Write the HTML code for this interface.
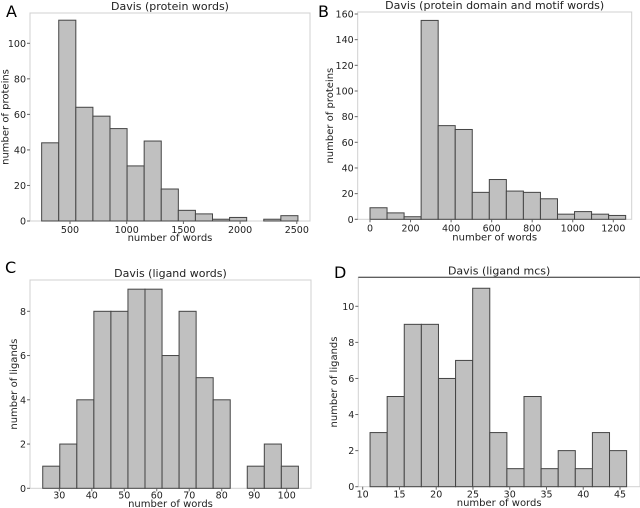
<!DOCTYPE html>
<html><head><meta charset="utf-8">
<style>
html,body{margin:0;padding:0;background:#fff;}
svg{display:block;font-family:"DejaVu Sans","Liberation Sans",sans-serif;}
</style></head>
<body>
<svg id="fig" width="640" height="508" viewBox="0 0 640 508"></svg>
<script>
// Panel A data
const aCounts = [44,113,64,59,52,31,45,18,6,4,1,2,0,1,3];
const aStart = 250, aEnd = 2510;
const aXTicks = [500,1000,1500,2000,2500];
const aYTicks = [0,20,40,60,80,100];
// Panel B data
const bCounts = [9,5,2,155,73,70,21,31,22,21,16,4,6,4,3];
const bStart = 0, bEnd = 1261;
const bXTicks = [0,200,400,600,800,1000,1200];
const bYTicks = [0,20,40,60,80,100,120,140,160];
// Panel C data
const cCounts = [1,2,4,8,8,9,9,6,8,5,4,0,1,2,1];
const cStart = 24.9, cEnd = 103.6;
const cXTicks = [30,40,50,60,70,80,90,100];
const cYTicks = [0,2,4,6,8];
// Panel D data
const dCounts = [3,5,9,9,6,7,11,3,1,5,1,2,1,3,2];
const dStart = 11.0, dEnd = 45.9;
const dXTicks = [10,15,20,25,30,35,40,45];
const dYTicks = [0,2,4,6,8,10];

const NS="http://www.w3.org/2000/svg";
const fig=document.getElementById('fig');
function mk(tag,attrs,parent){const e=document.createElementNS(NS,tag);for(const k in attrs)e.setAttribute(k,attrs[k]);(parent||fig).appendChild(e);return e;}

function panel(cfg){
  const g=mk('g',{});
  
  
  const sx=v=>cfg.px0+(v-cfg.vx0)*(cfg.px1-cfg.px0)/(cfg.vx1-cfg.vx0);
  const sy=v=>cfg.py0+(v-cfg.vy0)*(cfg.py1-cfg.py0)/(cfg.vy1-cfg.vy0);
  const fr=mk('rect',{x:cfg.L,y:cfg.T,width:cfg.R-cfg.L,height:cfg.B-cfg.T,fill:'none',stroke:'#d0d0d0','stroke-width':1},g);
  
  
  if(cfg.topLine){const tl=mk('line',{x1:cfg.L,x2:640,y1:cfg.T,y2:cfg.T,stroke:'#333','stroke-width':1},g);
    
    }
  const w=(cfg.end-cfg.start)/cfg.counts.length;
  cfg.counts.forEach((c,i)=>{
    if(c<=0)return;
    const x0=sx(cfg.start+i*w),x1=sx(cfg.start+(i+1)*w),y=sy(c),y0=sy(0);
    const r=mk('rect',{x:x0,y:y,width:x1-x0,height:y0-y,fill:'#c0c0c0',stroke:'#444','stroke-width':1},g);
    
    
  });
  cfg.xt.forEach(t=>{
    const x=sx(t);
    mk('line',{x1:x,x2:x,y1:cfg.B,y2:cfg.B+3,stroke:'#666'},g);
    const tx=mk('text',{x:x,y:cfg.B+cfg.tko,'font-size':9.5,'text-anchor':'middle',fill:'#222'},g);
    tx.textContent=t;
    
    
  });
  cfg.yt.forEach(t=>{
    const y=sy(t);
    mk('line',{x1:cfg.L-3,x2:cfg.L,y1:y,y2:y,stroke:'#666'},g);
    const tx=mk('text',{x:cfg.L-4,y:y+3.5,'font-size':9.5,'text-anchor':'end',fill:'#222'},g);
    tx.textContent=t;
    
    
  });
  const ti=mk('text',{x:(cfg.L+cfg.R)/2,y:cfg.T-3,'font-size':11,'text-anchor':'middle',fill:'#222'},g);
  ti.textContent=cfg.title;
  
  
  const xl=mk('text',{x:(cfg.L+cfg.R)/2,y:cfg.B+cfg.xlo,'font-size':10,'text-anchor':'middle',fill:'#222'},g);
  xl.textContent='number of words';
  
  
  const yx=cfg.ylx,ym=(cfg.T+cfg.B)/2;
  const yl=mk('text',{x:yx,y:ym,'font-size':10,'text-anchor':'middle',fill:'#222',transform:'rotate(-90 '+yx+' '+ym+')'},g);
  yl.textContent=cfg.ylabel;
  
  
  const pl=mk('text',{x:cfg.lx,y:cfg.ly,'font-size':16,fill:'#000'},g);
  pl.textContent=cfg.letter;
  
  
}

panel({name:'panel-a',letter:'A',lx:6,ly:17,L:30,R:310,T:13,B:221,px0:70,px1:126.7,vx0:500,vx1:1000,py0:221,py1:43.3,vy0:0,vy1:100,
  counts:aCounts,start:aStart,end:aEnd,xt:aXTicks,yt:aYTicks,title:'Davis (protein words)',ylabel:'number of proteins',ylx:8.5,tko:12,xlo:20});
panel({name:'panel-b',letter:'B',lx:318,ly:17,L:357.7,R:631.7,T:12,B:219.3,px0:370,px1:613.3,vx0:0,vx1:1200,py0:219.3,py1:14,vy0:0,vy1:160,
  counts:bCounts,start:bStart,end:bEnd,xt:bXTicks,yt:bYTicks,title:'Davis (protein domain and motif words)',ylabel:'number of proteins',ylx:333,tko:12,xlo:21});
panel({name:'panel-c',letter:'C',lx:5,ly:273,L:30,R:311,T:280,B:488.3,px0:59.3,px1:286.7,vx0:30,vx1:100,py0:488.3,py1:311.3,vy0:0,vy1:8,
  counts:cCounts,start:cStart,end:cEnd,xt:cXTicks,yt:cYTicks,title:'Davis (ligand words)',ylabel:'number of ligands',ylx:17,tko:10,xlo:18.5});
panel({name:'panel-d',letter:'D',lx:334,ly:278,L:358.3,R:640,T:277.3,B:486.7,px0:362.7,px1:620,vx0:10,vx1:45,py0:486.7,py1:306.3,vy0:0,vy1:10,
  counts:dCounts,start:dStart,end:dEnd,xt:dXTicks,yt:dYTicks,title:'Davis (ligand mcs)',ylabel:'number of ligands',ylx:337,tko:11,xlo:19.5,topLine:true});
</script>
</body></html>
